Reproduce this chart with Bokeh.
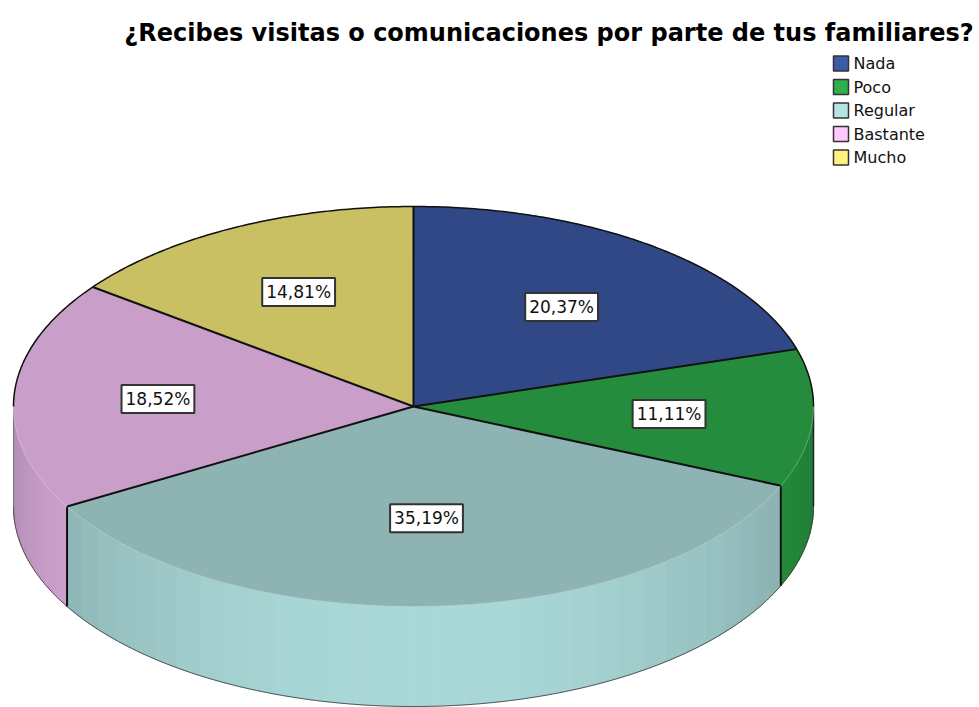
import numpy as np
from bokeh.plotting import figure
from bokeh.models import Range1d
from bokeh.embed import file_html
from bokeh.resources import INLINE
from bokeh.core.properties import value

# ---------------- data ----------------
title_text = "¿Recibes visitas o comunicaciones por parte de tus familiares?"
categories = ["Nada", "Poco", "Regular", "Bastante", "Mucho"]
percents = [20.37, 11.11, 35.19, 18.52, 14.81]
pct_labels = ["20,37%", "11,11%", "35,19%", "18,52%", "14,81%"]

# ---------------- styles ----------------
legend_colors = ["#3d5ba9", "#2eb14c", "#b3e3e3", "#ffc9ff", "#fff27d"]
TOP_SHADE = 0.79
DEPTH = 0.5  # side height in y-units (ellipse ry = 1)
label_frac = [0.62, 0.64, 0.56, 0.64, 0.64]

W, H = 979, 707
CX, CY, RX, RY = 413, 406, 400, 200  # pie centre / radii in page pixels


def X(px):
    return (px - CX) / RX


def Y(py):
    return (CY - py) / RY


def shade(hexcol, f):
    h = hexcol.lstrip("#")
    r, g, b = (int(h[i:i + 2], 16) for i in (0, 2, 4))
    return "#%02x%02x%02x" % tuple(max(0, min(255, int(round(c * f)))) for c in (r, g, b))


def side_factor(t_deg):
    c = -np.cos(np.radians(t_deg))
    return 0.70 + 0.25 * max(c, 0.0) ** 1.3


def pt(t_deg):
    r = np.radians(t_deg)
    return np.sin(r), np.cos(r)


p = figure(width=W, height=H,
           x_range=Range1d(X(0), X(W)), y_range=Range1d(Y(H), Y(0)),
           output_backend="svg", toolbar_location=None,
           x_axis_location=None, y_axis_location=None, min_border=0)
p.grid.visible = False
p.outline_line_color = None
p.background_fill_color = "white"

total = sum(percents)
bounds = np.concatenate([[0], np.cumsum(percents) / total * 360.0])

# ---- sides (front half only, 90..270 deg) ----
sx, sy, scol = [], [], []
STEP = 4.0
for i in range(len(percents)):
    a0, a1 = max(bounds[i], 90.0), min(bounds[i + 1], 270.0)
    if a1 <= a0:
        continue
    n = max(1, int(np.ceil((a1 - a0) / STEP)))
    edges = np.linspace(a0, a1, n + 1)
    for j in range(n):
        t0, t1 = edges[j], edges[j + 1]
        ts = np.linspace(t0, t1, 4)
        xs = [pt(t)[0] for t in ts]
        ys = [pt(t)[1] for t in ts]
        sx.append(xs + xs[::-1])
        sy.append(ys + [y - DEPTH for y in ys[::-1]])
        scol.append(shade(legend_colors[i], side_factor(0.5 * (t0 + t1))))
p.patches(sx, sy, fill_color=scol, line_color=scol, line_width=1)

# bottom rim outline
tb = np.linspace(90, 270, 200)
p.line([pt(t)[0] for t in tb], [pt(t)[1] - DEPTH for t in tb],
       line_color="#3a3a3a", line_width=1, line_alpha=0.8)
# outer vertical edges
p.line([1, 1], [0, -DEPTH], line_color="#222222", line_width=1.5)
p.line([-1, -1], [0, -DEPTH], line_color="#777777", line_width=1)
# slice boundaries visible on the side
for b in bounds[1:-1]:
    if 90 < b < 270:
        x0, y0 = pt(b)
        p.line([x0, x0], [y0, y0 - DEPTH], line_color="#111111", line_width=2)

# ---- top faces ----
tx, ty, tcol = [], [], []
for i in range(len(percents)):
    ts = np.linspace(bounds[i], bounds[i + 1], max(3, int(bounds[i + 1] - bounds[i]) + 2))
    tx.append([0.0] + [pt(t)[0] for t in ts])
    ty.append([0.0] + [pt(t)[1] for t in ts])
    tcol.append(shade(legend_colors[i], TOP_SHADE))
p.patches(tx, ty, fill_color=tcol, line_color=tcol, line_width=0.5)

# faint front rim of the top face
tf = np.linspace(90, 270, 200)
p.line([pt(t)[0] for t in tf], [pt(t)[1] for t in tf],
       line_color="white", line_alpha=0.25, line_width=1)
# back rim outline
tk = np.linspace(-90, 90, 300)
p.line([pt(t)[0] for t in tk], [pt(t)[1] for t in tk],
       line_color="#111111", line_width=1.5)
# radial slice edges
for b in bounds[:-1]:
    x0, y0 = pt(b)
    p.line([0, x0], [0, y0], line_color="#111111", line_width=2)

# ---- percentage labels ----
mids = 0.5 * (bounds[:-1] + bounds[1:])
lx = [label_frac[i] * pt(m)[0] for i, m in enumerate(mids)]
ly = [label_frac[i] * pt(m)[1] for i, m in enumerate(mids)]
p.text(x=lx, y=ly, text=pct_labels, text_align="center", text_baseline="middle",
       text_font=value("DejaVu Sans"), text_font_size="17px", text_color="#111111",
       background_fill_color="white", border_line_color="#333333",
       border_line_width=2, padding=4)

# ---- title ----
p.text(x=[X(548.5)], y=[Y(32)], text=[title_text],
       text_align="center", text_baseline="alphabetic",
       text_font=value("DejaVu Sans"), text_font_style="bold",
       text_font_size="24px", text_color="black")

# ---- legend (drawn manually) ----
n = len(categories)
row_y = [63 + 23.5 * i for i in range(n)]
p.quad(left=[X(833)] * n, right=[X(848)] * n,
       top=[Y(r - 7.5) for r in row_y], bottom=[Y(r + 7.5) for r in row_y],
       fill_color=legend_colors, line_color="#333333", line_width=1.5)
p.text(x=[X(853)] * n, y=[Y(r) for r in row_y], text=categories,
       text_align="left", text_baseline="middle",
       text_font=value("DejaVu Sans"), text_font_size="16px", text_color="#111111")

open("out.html", "w").write(file_html(p, INLINE))
